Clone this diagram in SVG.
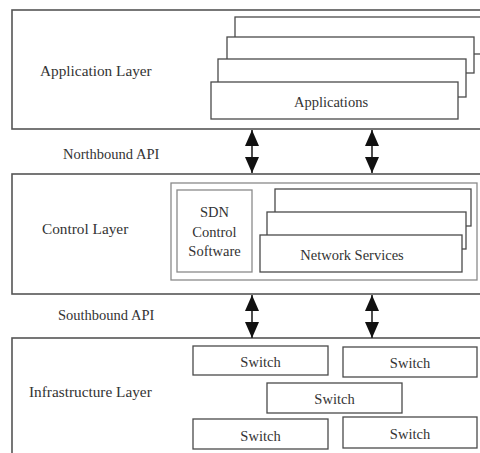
<svg xmlns="http://www.w3.org/2000/svg" width="480" height="453" viewBox="0 0 480 453">
<defs>
<style>
.layer{fill:#fff;stroke:#555;stroke-width:1.6}
.box{fill:#fff;stroke:#4a4a4a;stroke-width:1.3}
.light{fill:#fff;stroke:#8a8a8a;stroke-width:1.3}
.lbl{font-family:"Liberation Serif","Times New Roman",serif;font-size:15.3px;fill:#333}
.txt{font-family:"Liberation Serif","Times New Roman",serif;font-size:14.5px;fill:#333;text-anchor:middle}
.conn{stroke:#222;stroke-width:1.6;fill:none;marker-start:url(#ah);marker-end:url(#ah)}
</style>
<marker id="ah" markerUnits="userSpaceOnUse" markerWidth="18" markerHeight="14" refX="16" refY="7" orient="auto-start-reverse">
<path d="M0,0 L16,7 L0,14 Z" fill="#111"/>
</marker>
</defs>
<rect width="480" height="453" fill="#fff"/>

<g id="application-layer">
<rect class="layer" x="12" y="10" width="490" height="119"/>
<text class="lbl" x="40" y="76">Application Layer</text>
</g>
<g id="applications">
<rect class="box" x="235" y="17" width="260" height="37"/>
<rect class="box" x="227" y="37" width="247" height="36"/>
<rect class="box" x="218" y="59" width="248" height="38"/>
<rect class="box" x="211" y="82" width="247" height="37"/>
<text class="txt" x="331" y="107">Applications</text>
</g>

<g id="northbound-label"><text class="lbl" x="63" y="159" style="font-size:14.5px">Northbound API</text></g>

<g id="control-layer">
<rect class="layer" x="12" y="174" width="490" height="120"/>
<text class="lbl" x="42" y="234">Control Layer</text>
<rect class="light" x="171" y="183" width="306" height="97"/>
</g>
<g id="sdn-control-software">
<rect class="light" x="177" y="190" width="75" height="82"/>
<text class="txt" x="214.5" y="217">SDN</text>
<text class="txt" x="214.5" y="237">Control</text>
<text class="txt" x="214.5" y="256">Software</text>
</g>
<g id="network-services">
<rect class="box" x="275" y="189" width="196" height="37"/>
<rect class="box" x="267" y="212" width="199" height="37"/>
<rect class="box" x="260" y="235" width="202" height="37"/>
<text class="txt" x="352" y="260">Network Services</text>
</g>

<g id="southbound-label"><text class="lbl" x="58" y="320" style="font-size:14.5px">Southbound API</text></g>

<g id="infrastructure-layer">
<rect class="layer" x="12" y="338" width="490" height="130"/>
<text class="lbl" x="29" y="397">Infrastructure Layer</text>
</g>
<g id="switch-1"><rect class="box" x="193" y="346" width="135" height="29"/><text class="txt" x="260.5" y="367">Switch</text></g>
<g id="switch-2"><rect class="box" x="343" y="347" width="134" height="30"/><text class="txt" x="410" y="368">Switch</text></g>
<g id="switch-3"><rect class="box" x="267" y="383" width="135" height="30"/><text class="txt" x="334.5" y="404">Switch</text></g>
<g id="switch-4"><rect class="box" x="193" y="419" width="135" height="30"/><text class="txt" x="260.5" y="441">Switch</text></g>
<g id="switch-5"><rect class="box" x="343" y="417" width="134" height="31"/><text class="txt" x="410" y="439">Switch</text></g>

<g id="connectors">
<line class="conn" x1="252" y1="130" x2="252" y2="173"/>
<line class="conn" x1="372" y1="130" x2="372" y2="173"/>
<line class="conn" x1="252" y1="295" x2="252" y2="338"/>
<line class="conn" x1="372" y1="295" x2="372" y2="338"/>
</g>
</svg>
